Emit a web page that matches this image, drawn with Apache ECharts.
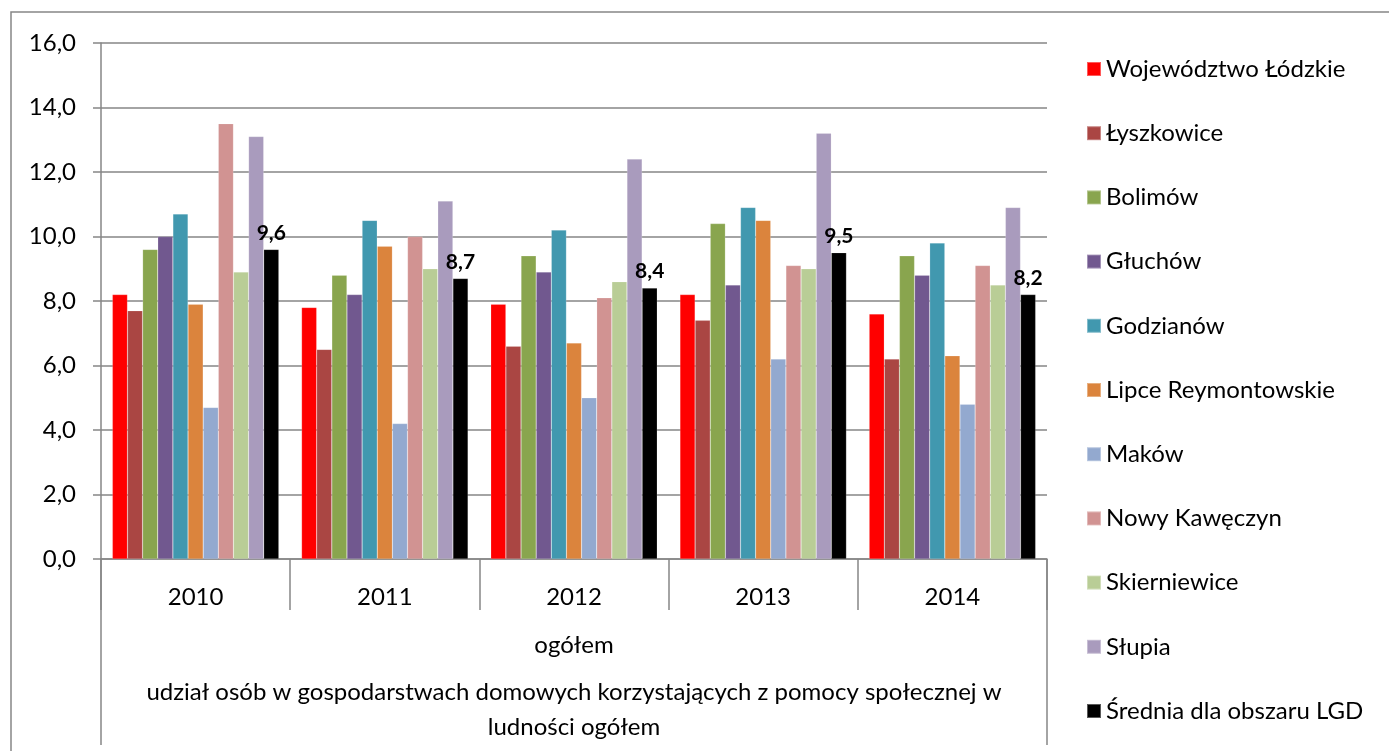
<!DOCTYPE html>
<html>
<head>
<meta charset="utf-8">
<script src="https://cdn.jsdelivr.net/npm/echarts@6/dist/echarts.min.js"></script>
<style>
  html, body { margin: 0; padding: 0; background: #fff; }
  #chart { width: 1389px; height: 751px; }
</style>
</head>
<body>
<div id="chart"></div>
<script>
// dane
var years = ['2010', '2011', '2012', '2013', '2014'];
var seriesNames = ['Województwo Łódzkie', 'Łyszkowice', 'Bolimów', 'Głuchów', 'Godzianów',
  'Lipce Reymontowskie', 'Maków', 'Nowy Kawęczyn', 'Skierniewice', 'Słupia', 'Średnia dla obszaru LGD'];
var wojewodztwo = [8.2, 7.8, 7.9, 8.2, 7.6];
var lyszkowice = [7.7, 6.5, 6.6, 7.4, 6.2];
var bolimow = [9.6, 8.8, 9.4, 10.4, 9.4];
var gluchow = [10.0, 8.2, 8.9, 8.5, 8.8];
var godzianow = [10.7, 10.5, 10.2, 10.9, 9.8];
var lipce = [7.9, 9.7, 6.7, 10.5, 6.3];
var makow = [4.7, 4.2, 5.0, 6.2, 4.8];
var nowyKaweczyn = [13.5, 10.0, 8.1, 9.1, 9.1];
var skierniewice = [8.9, 9.0, 8.6, 9.0, 8.5];
var slupia = [13.1, 11.1, 12.4, 13.2, 10.9];
var srednia = [9.6, 8.7, 8.4, 9.5, 8.2];
var yTicks = [0, 2, 4, 6, 8, 10, 12, 14, 16];

var values = [wojewodztwo, lyszkowice, bolimow, gluchow, godzianow, lipce, makow,
  nowyKaweczyn, skierniewice, slupia, srednia];
var colors = ['#FF0000', '#AA4643', '#89A54E', '#71588F', '#4198AF', '#DB843D',
  '#93A9CF', '#D19392', '#B9CD96', '#A99BBD', '#000000'];

var font = 'Lato, "Noto Sans", sans-serif';
var grey = '#868686';

function comma(v) {
  return Number(v).toFixed(1).replace('.', ',');
}

var chart = echarts.init(document.getElementById('chart'));

var series = [];
for (var i = 0; i < seriesNames.length; i++) {
  var s = {
    name: seriesNames[i],
    type: 'bar',
    data: values[i],
    barGap: 0,
    barCategoryGap: '12%',
    itemStyle: { color: colors[i], borderColor: 'rgba(255,255,255,0.35)', borderWidth: 0.5 }
  };
  if (i === seriesNames.length - 1) {
    s.label = {
      show: true,
      position: 'top',
      distance: 6,
      color: '#000',
      fontWeight: 'bold',
      fontSize: 21,
      fontFamily: font,
      formatter: function (p) { return comma(p.value); }
    };
  }
  series.push(s);
}

var option = {
  animation: false,
  color: colors,
  textStyle: { fontFamily: font },
  grid: { left: 101, right: 342, top: 43, bottom: 192 },
  legend: {
    orient: 'vertical',
    left: 1081,
    top: 52,
    icon: 'rect',
    itemWidth: 14,
    itemHeight: 14,
    itemGap: 40.2,
    textStyle: { fontSize: 24, lineHeight: 24, color: '#000', fontFamily: font },
    data: seriesNames
  },
  xAxis: {
    type: 'category',
    data: years,
    axisLine: { lineStyle: { color: grey, width: 1.5 } },
    axisTick: { show: true, length: 51, interval: 0, lineStyle: { color: grey, width: 1.5 } },
    axisLabel: { fontSize: 24, color: '#000', margin: 26, fontFamily: font }
  },
  yAxis: {
    type: 'value',
    min: yTicks[0],
    max: yTicks[yTicks.length - 1],
    interval: yTicks[1] - yTicks[0],
    axisLine: { show: true, lineStyle: { color: grey, width: 1.5 } },
    axisTick: { show: true, length: 8, lineStyle: { color: grey, width: 1.5 } },
    splitLine: { lineStyle: { color: grey, width: 1.5 } },
    axisLabel: {
      fontSize: 24, color: '#000', margin: 25, fontFamily: font,
      formatter: function (v) { return comma(v); }
    }
  },
  graphic: [
    { type: 'rect', shape: { x: 11, y: 12, width: 1400, height: 800 },
      style: { fill: null, stroke: grey, lineWidth: 1.5 }, silent: true },
    { type: 'line', shape: { x1: 101, y1: 559, x2: 101, y2: 745 },
      style: { stroke: grey, lineWidth: 1.5 } },
    { type: 'line', shape: { x1: 1047, y1: 559, x2: 1047, y2: 745 },
      style: { stroke: grey, lineWidth: 1.5 } },
    { type: 'text', x: 574, y: 645,
      style: { text: 'ogółem', fill: '#000', fontSize: 24, fontFamily: font,
        textAlign: 'center', textVerticalAlign: 'middle' } },
    { type: 'text', x: 574, y: 710,
      style: { text: 'udział osób w gospodarstwach domowych korzystających z pomocy społecznej w\nludności ogółem',
        fill: '#000', fontSize: 24, lineHeight: 35, fontFamily: font,
        textAlign: 'center', textVerticalAlign: 'middle' } }
  ],
  series: series
};

chart.setOption(option);
</script>
</body>
</html>
